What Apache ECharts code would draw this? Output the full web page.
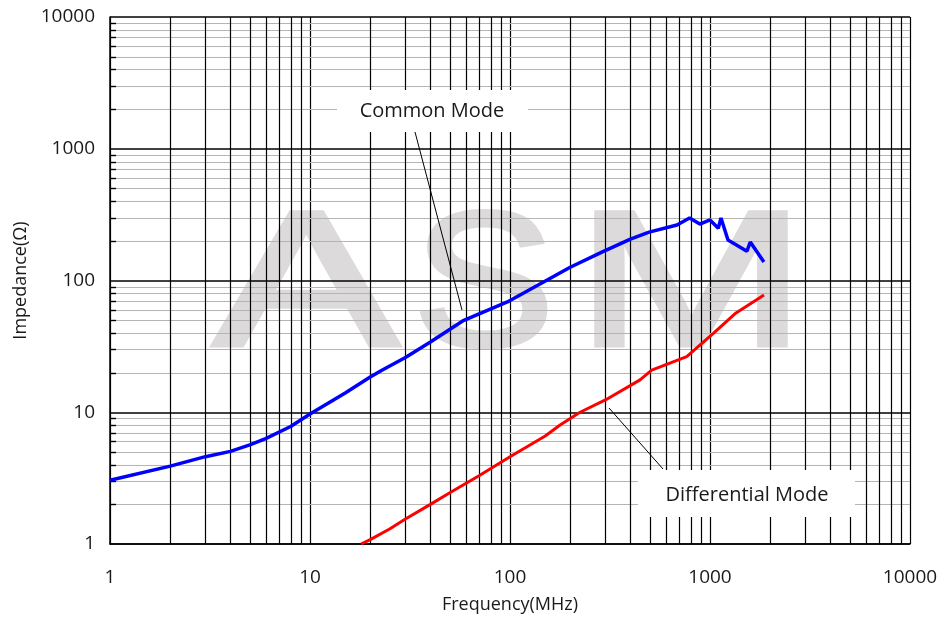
<!DOCTYPE html>
<html><head><meta charset="utf-8">
<script src="https://cdn.jsdelivr.net/npm/echarts@6/dist/echarts.min.js"></script>
<style>html,body{margin:0;padding:0;background:#fff}#c{width:941px;height:621px}</style>
</head><body><div id="c"></div>
<script>
// ---- data ----
const commonFreq = [1, 2, 3, 4, 5, 6, 8, 10, 15, 20, 23, 30, 40, 58, 97, 160, 200, 288, 400, 496, 684, 790, 890, 1000, 1100, 1135, 1230, 1530, 1590, 1860];
const commonZ    = [3.05, 3.9, 4.6, 5.05, 5.65, 6.3, 7.8, 9.7, 14, 18.5, 20.9, 26, 34.1, 49.3, 68.7, 104.5, 126, 164, 206, 233, 264, 298, 268, 288, 249, 298, 203, 167, 196, 138];
const diffFreq = [18, 20, 25, 30, 40, 50, 70, 100, 150, 178, 224, 300, 447, 511, 765, 1039, 1349, 1862];
const diffZ    = [1.0, 1.08, 1.3, 1.55, 2.0, 2.45, 3.3, 4.6, 6.6, 8.0, 10.0, 12.4, 17.6, 20.9, 26.4, 39.7, 56.7, 77.6];
const xTicks = [1, 10, 100, 1000, 10000];
const yTicks = [1, 10, 100, 1000, 10000];
const minorSteps = [2, 3, 4, 5, 6, 7, 8, 9];
const xName = 'Frequency(MHz)';
const yName = 'Impedance(Ω)';
const labelCommon = 'Common Mode';
const labelDiff = 'Differential Mode';

const minorVals = [];
for (let i = 0; i < xTicks.length - 1; i++) minorSteps.forEach(m => minorVals.push(xTicks[i] * m));

const FONT = '"Open Sans", "Liberation Sans", sans-serif';
const chart = echarts.init(document.getElementById('c'));

function vLine(params, api) {
  const v = api.value(0);
  const p1 = api.coord([v, yTicks[0]]);
  const p2 = api.coord([v, yTicks[yTicks.length - 1]]);
  const x = Math.round(p1[0]) + 0.5;
  return { type: 'line', shape: { x1: x, y1: p1[1], x2: x, y2: p2[1] }, style: { stroke: '#000', lineWidth: 1.2 } };
}
function hLine(params, api) {
  const v = api.value(1);
  const p1 = api.coord([xTicks[0], v]);
  const p2 = api.coord([xTicks[xTicks.length - 1], v]);
  const y = Math.round(p1[1]) + 0.5;
  return { type: 'group', children: [
    { type: 'line', shape: { x1: p1[0], y1: y, x2: p2[0], y2: y }, style: { stroke: '#b4b4b4', lineWidth: 1.2 } },
    { type: 'line', shape: { x1: p1[0], y1: y, x2: p1[0] + 6, y2: y }, style: { stroke: '#000', lineWidth: 1.4 } }
  ]};
}

const WM = '192px "Liberation Sans"';
const WC = '#dcdada';
function wmLetter(ch, x, sx) {
  return { type: 'text', z: -10, x: x, y: 292, scaleX: sx,
    style: { text: ch, fill: WC, stroke: WC, lineWidth: 5, lineJoin: 'miter', font: WM, textAlign: 'center', textVerticalAlign: 'middle' } };
}
const option = {
  animation: false,
  backgroundColor: '#fff',
  grid: { left: 110, right: 31, top: 17, bottom: 77 },
  xAxis: {
    type: 'log', logBase: 10, min: 1, max: 10000,
    name: xName, nameLocation: 'middle', nameGap: 52,
    nameTextStyle: { fontFamily: FONT, fontSize: 18, color: '#1a1a1a' },
    axisLine: { show: true, lineStyle: { color: '#000', width: 1.5 } },
    axisTick: { show: false },
    axisLabel: { fontFamily: FONT, fontSize: 19, color: '#1a1a1a', margin: 24, formatter: v => String(Math.round(v)) },
    splitLine: { show: true, lineStyle: { color: '#000', width: 1.2 } },
    minorTick: { show: false }, minorSplitLine: { show: false }
  },
  yAxis: {
    type: 'log', logBase: 10, min: 1, max: 10000,
    name: yName, nameLocation: 'middle', nameGap: 80, nameRotate: 90,
    nameTextStyle: { fontFamily: FONT, fontSize: 18, color: '#1a1a1a' },
    axisLine: { show: true, lineStyle: { color: '#000', width: 1.5 } },
    axisTick: { show: false },
    axisLabel: { fontFamily: FONT, fontSize: 19, color: '#1a1a1a', margin: 15, formatter: v => String(Math.round(v)) },
    splitLine: { show: true, lineStyle: { color: '#000', width: 1.6 } },
    minorTick: { show: false }, minorSplitLine: { show: false }
  },
  graphic: [
    wmLetter('A', 306, 1.44),
    wmLetter('S', 484, 1.1),
    wmLetter('M', 691, 1.45),
    { type: 'rect', z: 50, shape: { x: 337, y: 90, width: 191, height: 42 }, style: { fill: '#fff' } },
    { type: 'text', z: 51, x: 432, y: 111, style: { text: labelCommon, fill: '#1a1a1a', font: '20px ' + FONT, textAlign: 'center', textVerticalAlign: 'middle' } },
    { type: 'line', z: 51, shape: { x1: 415, y1: 132, x2: 462, y2: 310 }, style: { stroke: '#000', lineWidth: 1 } },
    { type: 'rect', z: 50, shape: { x: 638, y: 470, width: 217, height: 47 }, style: { fill: '#fff' } },
    { type: 'text', z: 51, x: 747, y: 495, style: { text: labelDiff, fill: '#1a1a1a', font: '20px ' + FONT, textAlign: 'center', textVerticalAlign: 'middle' } },
    { type: 'line', z: 51, shape: { x1: 609, y1: 408, x2: 663, y2: 469 }, style: { stroke: '#000', lineWidth: 1 } }
  ],
  series: [
    { type: 'custom', z: 1, silent: true, renderItem: hLine, data: minorVals.map(v => [1, v]), clip: false },
    { type: 'custom', z: 1, silent: true, renderItem: vLine, data: minorVals.map(v => [v, 1]), clip: false },
    { type: 'line', z: 10, name: 'Common Mode', data: commonFreq.map((f, i) => [f, commonZ[i]]), showSymbol: false, symbol: 'none', lineStyle: { color: '#0000ff', width: 3.5 }, smooth: false },
    { type: 'line', z: 10, name: 'Differential Mode', data: diffFreq.map((f, i) => [f, diffZ[i]]), showSymbol: false, symbol: 'none', lineStyle: { color: '#ff0000', width: 3 }, smooth: false }
  ]
};
chart.setOption(option);
</script></body></html>
